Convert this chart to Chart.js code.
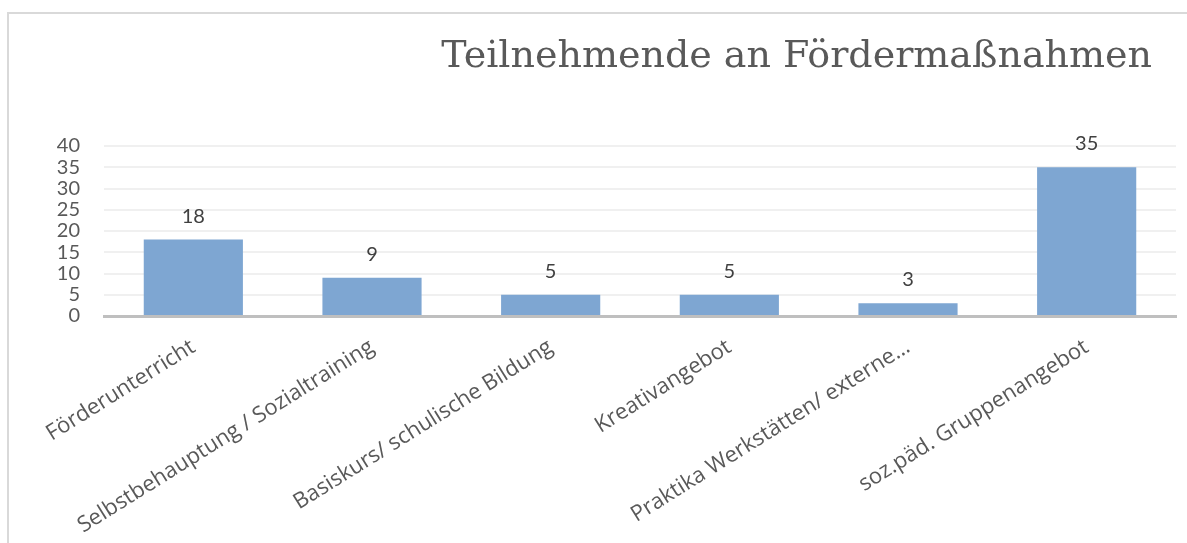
<!DOCTYPE html>
<html>
<head>
<meta charset="utf-8">
<script src="https://cdn.jsdelivr.net/npm/chart.js@4"></script>
<style>
  html, body { margin: 0; padding: 0; background: #fff; }
  #wrap { width: 1187px; height: 543px; position: relative; }
</style>
</head>
<body>
<div id="wrap"><canvas id="mychart" width="1187" height="543"></canvas></div>
<script>
// Daten
var titel = 'Teilnehmende an Fördermaßnahmen';
var kategorien = [
  'Förderunterricht',
  'Selbstbehauptung / Sozialtraining',
  'Basiskurs/ schulische Bildung',
  'Kreativangebot',
  'Praktika Werkstätten/ externe…',
  'soz.päd. Gruppenangebot'
];
var teilnehmende = [18, 9, 5, 5, 3, 35];
var yTicks = [0, 5, 10, 15, 20, 25, 30, 35, 40];

// Rahmen links/oben
var rahmen = {
  id: 'rahmen',
  beforeDraw: function(chart) {
    var c = chart.ctx;
    c.save();
    c.strokeStyle = '#d9d9d9';
    c.lineWidth = 2;
    c.beginPath();
    c.moveTo(8, 543);
    c.lineTo(8, 13);
    c.lineTo(1187, 13);
    c.stroke();
    c.restore();
  }
};

// Titel rechtsbündig
var titelPlugin = {
  id: 'titelPlugin',
  afterDraw: function(chart) {
    var c = chart.ctx;
    c.save();
    c.font = '38px "DejaVu Serif"';
    c.fillStyle = '#595959';
    c.textAlign = 'right';
    c.textBaseline = 'alphabetic';
    c.fillText(titel, 1152, 67);
    c.restore();
  }
};

// Werte über den Balken
var werte = {
  id: 'werte',
  afterDatasetsDraw: function(chart) {
    var c = chart.ctx;
    var meta = chart.getDatasetMeta(0);
    c.save();
    c.font = '20px Lato';
    c.fillStyle = '#404040';
    c.textAlign = 'center';
    c.textBaseline = 'alphabetic';
    meta.data.forEach(function(bar, i) {
      c.fillText(String(teilnehmende[i]), bar.x, bar.y - 17);
    });
    c.restore();
  }
};

var ctx = document.getElementById('mychart');
var myChart = new Chart(ctx, {
  type: 'bar',
  data: {
    labels: kategorien,
    datasets: [{
      label: titel,
      data: teilnehmende,
      backgroundColor: '#7ea6d2',
      categoryPercentage: 1,
      barPercentage: 0.555
    }]
  },
  options: {
    responsive: false,
    animation: false,
    layout: { padding: { top: 146, right: 11, left: 0, bottom: 0 } },
    plugins: {
      legend: { display: false },
      title: { display: false },
      tooltip: { enabled: false }
    },
    scales: {
      y: {
        min: 0,
        max: 40,
        afterBuildTicks: function(scale) {
          scale.ticks = yTicks.map(function(v) { return { value: v }; });
        },
        afterFit: function(scale) { scale.width = 104; },
        ticks: {
          autoSkip: false,
          padding: 24,
          color: '#595959',
          font: { family: 'Lato', size: 20 }
        },
        grid: { color: '#f0f0f0', lineWidth: 2, drawTicks: false },
        border: { display: false }
      },
      x: {
        afterFit: function(scale) { scale.height = 543 - 316; },
        ticks: {
          autoSkip: false,
          minRotation: 32,
          maxRotation: 32,
          padding: 18,
          color: '#595959',
          font: { family: 'Open Sans', size: 22 }
        },
        grid: { display: false, drawTicks: false },
        border: { display: true, color: '#bfbfbf', width: 3 }
      }
    }
  },
  plugins: [rahmen, titelPlugin, werte]
});
</script>
</body>
</html>
